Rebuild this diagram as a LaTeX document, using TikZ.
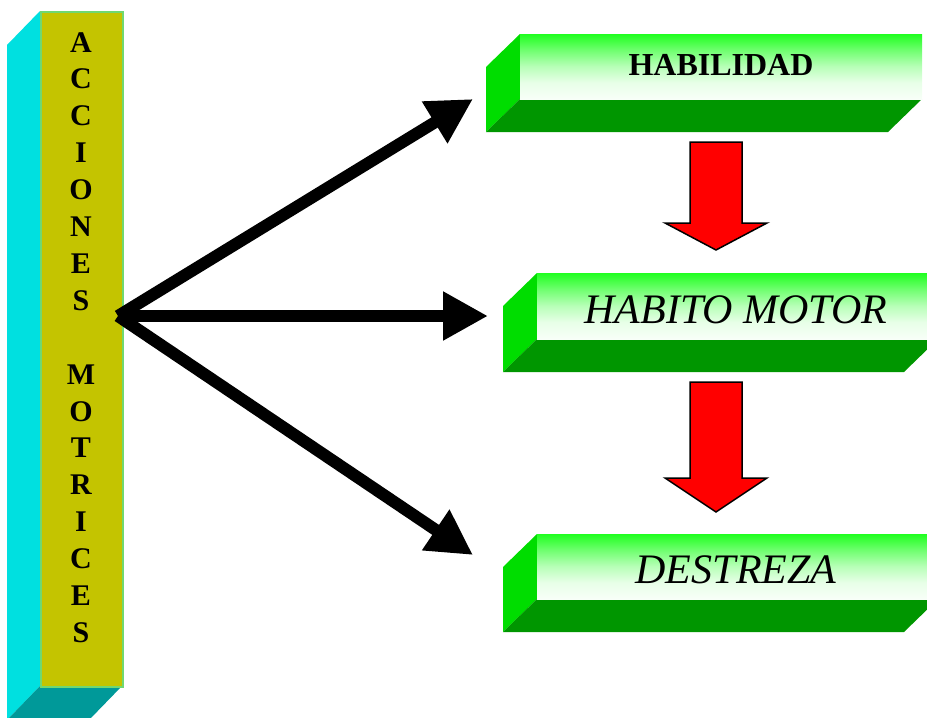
\documentclass[tikz,border=0pt]{standalone}
\usepackage{fontspec}
\setmainfont{Liberation Serif}
\usetikzlibrary{arrows.meta}
\definecolor{gTop}{HTML}{20FF20}
\definecolor{gA}{HTML}{70FF70}
\definecolor{gB}{HTML}{B8FFB8}
\definecolor{gC}{HTML}{E8FFE8}
\definecolor{gW}{HTML}{F8FFF8}
\definecolor{gSide}{HTML}{00DD00}
\definecolor{gBot}{HTML}{009600}
\definecolor{colFront}{HTML}{C4C400}
\definecolor{colSide}{HTML}{00E0E0}
\definecolor{colBot}{HTML}{009999}
\definecolor{colEdge}{HTML}{70D870}
\pgfdeclareverticalshading{gface}{100bp}{color(0bp)=(gW); color(25bp)=(gW); color(37.5bp)=(gC); color(50bp)=(gB); color(62.5bp)=(gA); color(75bp)=(gTop); color(100bp)=(gTop)}
\newcommand\greenbox[4]{%
  \fill[gSide] (#1,#2) -- (#1-34,#2+33) -- (#1-34,#4+33) -- (#1,#4) -- cycle;
  \fill[gBot] (#1,#4) -- (#3,#4) -- (#3-34,#4+33) -- (#1-34,#4+33) -- cycle;
  \shade[shading=gface] (#1,#2) rectangle (#3,#4);
}
\tikzset{
  colletter/.style={anchor=base, inner sep=0pt, font=\fontsize{30}{36}\selectfont\bfseries},
  boldlabel/.style={anchor=base, inner sep=0pt, font=\fontsize{32}{38}\selectfont\bfseries},
  itallabel/.style={anchor=base, inner sep=0pt, font=\fontsize{42}{50}\selectfont\itshape},
  blkarrow/.style={line width=12pt, -{Triangle[length=45pt,width=46pt]}},
  redarrow/.style={fill=red, draw=black, line width=1.5pt, line join=miter}
}
\begin{document}
\begin{tikzpicture}[x=1pt,y=-1pt]
\useasboundingbox (0,0) rectangle (927,718);
\clip (0,0) rectangle (927,718);
% left column
\fill[colSide] (40,11) -- (7,45) -- (7,720) -- (40,686) -- cycle;
\fill[colBot] (40,686) -- (122,686) -- (89,720) -- (7,720) -- cycle;
\node[draw=colEdge, fill=colFront, line width=1.5pt, minimum width=82pt, minimum height=675pt, inner sep=0pt, anchor=north west] (col) at (40,11) {};
\foreach \ch [count=\i from 0] in {A,C,C,I,O,N,E,S,{},M,O,T,R,I,C,E,S}
  \node[colletter] (c\i) at (81,52+36.9*\i) {\ch};
% green boxes
\greenbox{520}{34}{922}{99}
\greenbox{537}{273}{938}{339}
\greenbox{537}{534}{938}{599}
\node[boldlabel] (hab) at (721,75) {HABILIDAD};
\node[itallabel] (hmot) at (736,323) {HABITO MOTOR};
\node[itallabel] (des) at (736,583) {DESTREZA};
% red arrows
\draw[redarrow] (690,142) -- (742,142) -- (742,223) -- (767,223) -- (716,250) -- (665,223) -- (690,223) -- cycle;
\draw[redarrow] (690,382) -- (742,382) -- (742,478) -- (767,478) -- (716,512) -- (665,478) -- (690,478) -- cycle;
% black arrows
\coordinate (src) at (118,316);
\coordinate (t1) at (473,99);
\coordinate (t2) at (488,316);
\coordinate (t3) at (473,555);
\draw[blkarrow] (src) -- (t1);
\draw[blkarrow] (src) -- (t2);
\draw[blkarrow] (src) -- (t3);
\end{tikzpicture}
\end{document}
